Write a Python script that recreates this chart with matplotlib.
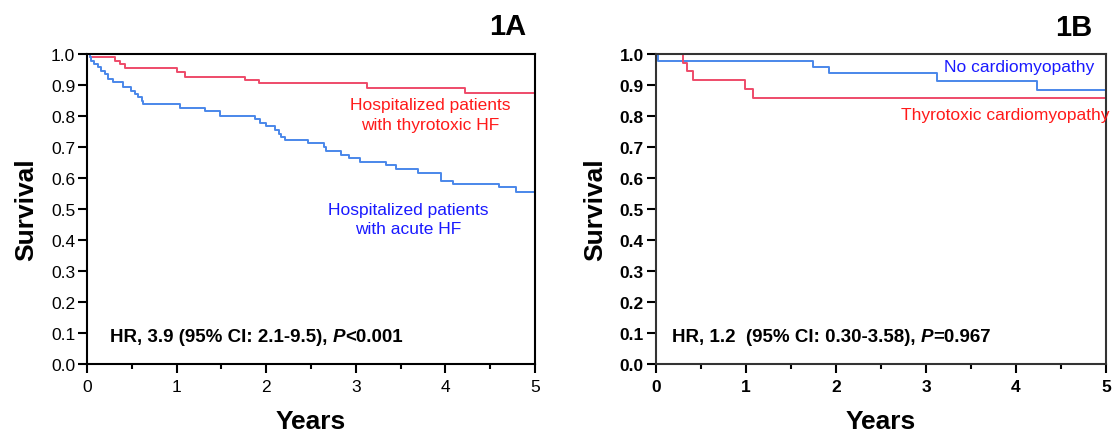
import matplotlib
matplotlib.use("Agg")
import matplotlib.pyplot as plt
from matplotlib.ticker import MultipleLocator

plt.rcParams["font.family"] = ["Liberation Sans", "DejaVu Sans"]

# Panel 1A: Kaplan-Meier steps (years, survival)
a_thyro_t = [0, 0.03, 0.31, 0.37, 0.42, 1.0, 1.09, 1.76, 1.92, 3.12, 4.22, 5.0]
a_thyro_s = [1.0, 0.989, 0.978, 0.967, 0.955, 0.941, 0.927, 0.917, 0.905, 0.889, 0.873, 0.873]

a_acute_t = [0, 0.03, 0.05, 0.08, 0.12, 0.16, 0.2, 0.24, 0.29, 0.4,
             0.49, 0.54, 0.57, 0.61, 0.62, 1.04, 1.32, 1.48, 1.875, 1.93,
             2.0, 2.1, 2.14, 2.17, 2.21, 2.47, 2.64, 2.67, 2.84, 2.92,
             3.05, 3.34, 3.45, 3.70, 3.95, 4.08, 4.60, 4.79, 5.0]
a_acute_s = [1.0, 0.989, 0.978, 0.968, 0.957, 0.946, 0.935, 0.919, 0.909, 0.893,
             0.882, 0.871, 0.860, 0.849, 0.839, 0.826, 0.817, 0.800, 0.790, 0.777,
             0.767, 0.755, 0.742, 0.731, 0.722, 0.712, 0.699, 0.686, 0.675, 0.663,
             0.651, 0.643, 0.629, 0.616, 0.591, 0.581, 0.570, 0.556, 0.556]

# Panel 1B
b_nocm_t = [0, 0.02, 1.75, 1.92, 3.12, 4.23, 5.0]
b_nocm_s = [1.0, 0.976, 0.959, 0.939, 0.912, 0.884, 0.884]
b_thyro_t = [0, 0.30, 0.35, 0.41, 0.99, 1.08, 5.0]
b_thyro_s = [1.0, 0.972, 0.944, 0.916, 0.888, 0.857, 0.857]

LINE_RED = "#EE4B69"
LINE_BLUE = "#4A87EA"
TEXT_RED = "#FF1A1A"
TEXT_BLUE = "#1A1AFF"


def style_axes(ax, bold_ticks=False):
    ax.set_xlim(0, 5)
    ax.set_ylim(0, 1.0)
    ax.xaxis.set_major_locator(MultipleLocator(1))
    ax.xaxis.set_minor_locator(MultipleLocator(0.5))
    ax.yaxis.set_major_locator(MultipleLocator(0.1))
    ax.yaxis.set_major_formatter(lambda v, p: f"{v:.1f}")
    for s in ax.spines.values():
        s.set_linewidth(1.5)
    ax.tick_params(which="major", direction="out", length=6.5, width=1.5,
                   labelsize=12.5, pad=2)
    ax.tick_params(axis="x", which="major", pad=4)
    ax.tick_params(which="minor", direction="out", length=3.5, width=1.5)
    ax.tick_params(axis="y", which="minor", length=0)
    weight = "bold" if bold_ticks else "normal"
    for lab in ax.get_xticklabels() + ax.get_yticklabels():
        lab.set_fontweight(weight)
    ax.set_xlabel("Years", fontsize=19, fontweight="bold", labelpad=11)
    ax.set_ylabel("Survival", fontsize=19, fontweight="bold", labelpad=9)


def hr_text(ax, x, y, first, op, last):
    t1 = ax.text(x, y, first, fontsize=13.5, fontweight="bold", va="center")
    t2 = ax.annotate("P", xy=(1, 0), xycoords=t1, va="bottom",
                     fontsize=13.5, fontweight="bold", fontstyle="italic")
    ax.annotate(op + last, xy=(1, 0), xycoords=t2, va="bottom",
                fontsize=13.5, fontweight="bold")


fig = plt.figure(figsize=(11.12, 4.35), dpi=100)
ax1 = fig.add_axes([0.0782, 0.1609, 0.4029, 0.7126])
ax2 = fig.add_axes([0.5897, 0.1609, 0.4050, 0.7126])

# 1A
ax1.step(a_thyro_t, a_thyro_s, where="post", color=LINE_RED, lw=1.4, clip_on=False)
ax1.step(a_acute_t, a_acute_s, where="post", color=LINE_BLUE, lw=1.4, clip_on=False)
style_axes(ax1)
ax1.text(3.83, 0.804, "Hospitalized patients\nwith thyrotoxic HF", color=TEXT_RED,
         fontsize=12.5, ha="center", va="center", multialignment="center",
         linespacing=1.45)
ax1.text(3.59, 0.468, "Hospitalized patients\nwith acute HF", color=TEXT_BLUE,
         fontsize=12.5, ha="center", va="center", multialignment="center",
         linespacing=1.3)
hr_text(ax1, 0.257, 0.09, "HR, 3.9 (95% CI: 2.1-9.5), ", "<", "0.001")
fig.text(0.457, 0.938, "1A", fontsize=21, fontweight="bold", ha="center", va="center")

# 1B
ax2.step(b_nocm_t, b_nocm_s, where="post", color=LINE_BLUE, lw=1.4, clip_on=False)
ax2.step(b_thyro_t, b_thyro_s, where="post", color=LINE_RED, lw=1.4, clip_on=False)
style_axes(ax2, bold_ticks=True)
for s in ax2.spines.values():
    s.set_color("#333333")
ax2.text(4.03, 0.959, "No cardiomyopathy", color=TEXT_BLUE, fontsize=12.5,
         ha="center", va="center")
ax2.text(3.88, 0.804, "Thyrotoxic cardiomyopathy", color=TEXT_RED, fontsize=12.5,
         ha="center", va="center")
hr_text(ax2, 0.18, 0.09, "HR, 1.2  (95% CI: 0.30-3.58), ", "=", "0.967")
fig.text(0.966, 0.936, "1B", fontsize=21, fontweight="bold", ha="center", va="center")

fig.savefig("out.png", dpi=100)
